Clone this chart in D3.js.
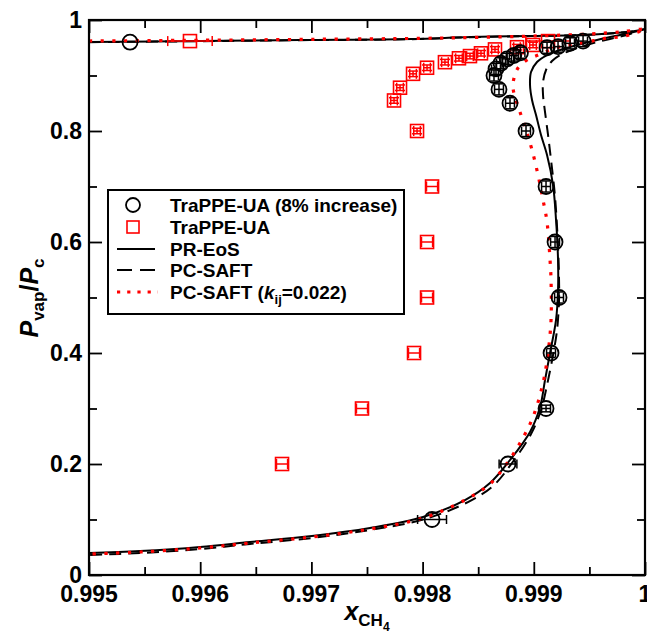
<!DOCTYPE html>
<html><head><meta charset="utf-8">
<script src="https://cdn.jsdelivr.net/npm/d3@7"></script>
<style>body{margin:0;background:#fff} svg text{font-family:"Liberation Sans",Arial,sans-serif;font-weight:bold;fill:#000}</style>
</head><body><svg id="c" width="647" height="633"></svg>
<script>
// ---------- tick values ----------
const xTicks = [0.995, 0.996, 0.997, 0.998, 0.999, 1];
const xTickLabels = ["0.995", "0.996", "0.997", "0.998", "0.999", "1"];
const xMinorTicks = [0.9955, 0.9965, 0.9975, 0.9985, 0.9995];
const yTicks = [0, 0.2, 0.4, 0.6, 0.8, 1];
const yTickLabels = ["0", "0.2", "0.4", "0.6", "0.8", "1"];
const yMinorTicks = [0.1, 0.3, 0.5, 0.7, 0.9];

// ---------- legend ----------
const seriesNames = ["TraPPE-UA (8% increase)", "TraPPE-UA", "PR-EoS", "PC-SAFT", "PC-SAFT (kij=0.022)"];

// ---------- simulation data: TraPPE-UA (8% increase) ----------
const trappe8X = [0.995369, 0.998085, 0.998768, 0.999110, 0.999155, 0.999227, 0.999191, 0.999110, 0.998930, 0.998786, 0.998687, 0.998642, 0.998660, 0.998705, 0.998760, 0.998820, 0.998880, 0.999119, 0.999218, 0.999326, 0.999443];
const trappe8Y = [0.960, 0.100, 0.200, 0.300, 0.400, 0.500, 0.600, 0.700, 0.800, 0.850, 0.875, 0.900, 0.912, 0.922, 0.930, 0.936, 0.941, 0.950, 0.952, 0.958, 0.962];
const trappe8XErr = [0, 0.00013, 0.00008, 0.00004, 0.00004, 0.00004, 0.00004, 0.00004, 0.00004, 0.00004, 0.00004, 0.00004, 0.00004, 0.00004, 0.00004, 0.00004, 0.00004, 0.00004, 0.00004, 0.00004, 0.00004];
const trappe8YErr = [0, 0, 0, 0.006, 0.008, 0.01, 0.01, 0.01, 0.01, 0.01, 0.01, 0.01, 0.01, 0.01, 0.01, 0.01, 0.01, 0.01, 0.01, 0.01, 0.01];

// ---------- simulation data: TraPPE-UA ----------
const trappeX = [0.995908, 0.996736, 0.997455, 0.997923, 0.998040, 0.998040, 0.998085, 0.997950, 0.997743, 0.997797, 0.997914, 0.998040, 0.998201, 0.998327, 0.998426, 0.998525, 0.998651, 0.998849, 0.998993, 0.999128];
const trappeY = [0.962, 0.200, 0.300, 0.400, 0.500, 0.600, 0.700, 0.800, 0.855, 0.878, 0.903, 0.914, 0.924, 0.931, 0.935, 0.940, 0.947, 0.951, 0.955, 0.962];
const trappeXErr = [0.0002, 0.00005, 0.00005, 0.00005, 0.00005, 0.00005, 0.00005, 0.00003, 0.00003, 0.00003, 0.00003, 0.00003, 0.00003, 0.00003, 0.00003, 0.00003, 0.00003, 0.00003, 0.00003, 0.0002];
const trappeYErr = [0, 0, 0, 0, 0, 0, 0, 0.005, 0.005, 0.005, 0.005, 0.005, 0.005, 0.005, 0.005, 0.005, 0.005, 0.005, 0.005, 0];

// ---------- PR-EoS (solid) ----------
const prX = [0.995, 0.996, 0.9969, 0.9979, 0.99843, 0.99897, 0.99942, 0.99973, 0.99991, 1.0,
  0.999865, 0.999775, 0.999568, 0.999326, 0.999209, 0.999119, 0.999029, 0.998975, 0.998966, 0.998984, 0.999020, 0.999065, 0.999119, 0.999173, 0.999200, 0.999218, 0.999218, 0.999200, 0.999146, 0.999101, 0.999056, 0.998966, 0.998786, 0.998606, 0.998381, 0.998004, 0.997527, 0.997005, 0.996448, 0.996, 0.995459, 0.995];
const prY = [0.9604, 0.9622, 0.9640, 0.9658, 0.9694, 0.9712, 0.9730, 0.9766, 0.9802, 0.9838,
  0.9766, 0.9730, 0.9640, 0.9514, 0.9441, 0.9369, 0.9243, 0.9063, 0.8829, 0.8559, 0.8288, 0.7928, 0.7568, 0.7027, 0.6396, 0.5676, 0.5135, 0.4595, 0.4000, 0.3514, 0.3027, 0.2577, 0.2072, 0.1658, 0.1351, 0.1045, 0.0847, 0.0703, 0.0595, 0.0505, 0.0432, 0.0396];

// ---------- PC-SAFT (dashed) ----------
const pcX = [0.995, 0.996, 0.9969, 0.9979, 0.99843, 0.99897, 0.99942, 0.99973, 0.99991, 1.0,
  0.999865, 0.999685, 0.999505, 0.999343, 0.999236, 0.999164, 0.999110, 0.999083, 0.999083, 0.999101, 0.999128, 0.999155, 0.999191, 0.999218, 0.999227, 0.999227, 0.999209, 0.999173, 0.999119, 0.999065, 0.998975, 0.998804, 0.998633, 0.998408, 0.998022, 0.997527, 0.997005, 0.996448, 0.996, 0.995459, 0.995];
const pcY = [0.9600, 0.9618, 0.9636, 0.9655, 0.9690, 0.9710, 0.9728, 0.9764, 0.9800, 0.9838,
  0.9748, 0.9658, 0.9568, 0.9459, 0.9369, 0.9261, 0.9099, 0.8883, 0.8649, 0.8342, 0.7928, 0.7477, 0.6811, 0.5910, 0.5315, 0.4955, 0.4414, 0.3964, 0.3423, 0.2973, 0.2541, 0.2018, 0.1604, 0.1315, 0.1009, 0.0811, 0.0667, 0.0559, 0.0468, 0.0396, 0.0360];

// ---------- PC-SAFT kij=0.022 (red dotted) ----------
const pckX = [0.995, 0.996, 0.997, 0.998, 0.9985, 0.999, 0.9995, 0.9998, 1.0,
  0.999883, 0.999775, 0.999658, 0.999568, 0.999478, 0.999371, 0.999263, 0.999146, 0.999038, 0.998939, 0.998858, 0.998822, 0.998813, 0.998840, 0.998885, 0.998930, 0.998984, 0.999038, 0.999083, 0.999119, 0.999146, 0.999155, 0.999155, 0.999128, 0.999083, 0.998993, 0.998876, 0.998741, 0.998606, 0.998381, 0.998004, 0.997527, 0.997005, 0.996448, 0.996, 0.995459, 0.995];
const pckY = [0.9622, 0.9635, 0.9652, 0.9670, 0.9688, 0.9712, 0.9748, 0.9790, 0.9838,
  0.9748, 0.9694, 0.9676, 0.9640, 0.9604, 0.9568, 0.9532, 0.9459, 0.9369, 0.9279, 0.9135, 0.8955, 0.8775, 0.8559, 0.8288, 0.8018, 0.7658, 0.7207, 0.6757, 0.6360, 0.5676, 0.5315, 0.4595, 0.4000, 0.3459, 0.2847, 0.2378, 0.1964, 0.1640, 0.1351, 0.1027, 0.0829, 0.0685, 0.0577, 0.0486, 0.0414, 0.0378];

// ---------- drawing ----------
const L = 89, R = 645, T = 20, B = 575;
const x = d3.scaleLinear().domain([0.995, 1]).range([L, R]);
const y = d3.scaleLinear().domain([0, 1]).range([B, T]);
const svg = d3.select("#c");

// ticks (inward, all four sides)
function ticks(axisGen, tr, vals, size) {
  const g = svg.append("g").attr("transform", tr)
    .call(axisGen.tickValues(vals).tickSize(size).tickFormat(""));
  g.select(".domain").remove();
  g.selectAll(".tick line").attr("stroke", "#000").attr("stroke-width", 1.8);
}
ticks(d3.axisBottom(x), `translate(0,${B})`, xTicks, -13);
ticks(d3.axisBottom(x), `translate(0,${B})`, xMinorTicks, -8);
ticks(d3.axisTop(x), `translate(0,${T})`, xTicks, -13);
ticks(d3.axisTop(x), `translate(0,${T})`, xMinorTicks, -8);
ticks(d3.axisLeft(y), `translate(${L},0)`, yTicks, -13);
ticks(d3.axisLeft(y), `translate(${L},0)`, yMinorTicks, -8);
ticks(d3.axisRight(y), `translate(${R},0)`, yTicks, -13);
ticks(d3.axisRight(y), `translate(${R},0)`, yMinorTicks, -8);

// tick labels
svg.append("g").selectAll("text").data(xTicks).join("text")
  .attr("x", d => x(d)).attr("y", 602).attr("text-anchor", "middle")
  .attr("font-size", 23).text((d, i) => xTickLabels[i]);
svg.append("g").selectAll("text").data(yTicks).join("text")
  .attr("x", 82).attr("y", d => y(d) + 8).attr("text-anchor", "end")
  .attr("font-size", 23).text((d, i) => yTickLabels[i]);

// curves
const line = d3.line().x(d => x(d[0])).y(d => y(d[1])).curve(d3.curveCatmullRom.alpha(0.5));
const plotG = svg.append("g");
plotG.append("path").datum(prX.map((v, i) => [v, prY[i]])).attr("d", line)
  .attr("fill", "none").attr("stroke", "#000").attr("stroke-width", 2);
plotG.append("path").datum(pcX.map((v, i) => [v, pcY[i]])).attr("d", line)
  .attr("fill", "none").attr("stroke", "#000").attr("stroke-width", 2).attr("stroke-dasharray", "12,7");
plotG.append("path").datum(pckX.map((v, i) => [v, pckY[i]])).attr("d", line)
  .attr("fill", "none").attr("stroke", "#ff0000").attr("stroke-width", 3.2).attr("stroke-dasharray", "3.2,8.5");

// error bars + markers
function errBars(g, xs, ys, xe, ye, color, cap) {
  xs.forEach((xv, i) => {
    const cx = x(xv), cy = y(ys[i]);
    if (xe[i] > 0) {
      const x0 = x(xv - xe[i]), x1 = x(xv + xe[i]);
      g.append("line").attr("x1", x0).attr("x2", x1).attr("y1", cy).attr("y2", cy);
      g.append("line").attr("x1", x0).attr("x2", x0).attr("y1", cy - cap).attr("y2", cy + cap);
      g.append("line").attr("x1", x1).attr("x2", x1).attr("y1", cy - cap).attr("y2", cy + cap);
    }
    if (ye[i] > 0) {
      const y0 = y(ys[i] - ye[i]), y1 = y(ys[i] + ye[i]);
      g.append("line").attr("x1", cx).attr("x2", cx).attr("y1", y0).attr("y2", y1);
      g.append("line").attr("x1", cx - cap).attr("x2", cx + cap).attr("y1", y0).attr("y2", y0);
      g.append("line").attr("x1", cx - cap).attr("x2", cx + cap).attr("y1", y1).attr("y2", y1);
    }
  });
  g.selectAll("line").attr("stroke", color).attr("stroke-width", 1.5);
}
const redG = svg.append("g");
errBars(redG.append("g"), trappeX, trappeY, trappeXErr, trappeYErr, "#ff0000", 5);
redG.append("g").selectAll("rect").data(trappeX).join("rect")
  .attr("x", (d) => x(d) - 6.5).attr("y", (d, i) => y(trappeY[i]) - 6.5)
  .attr("width", 13).attr("height", 13)
  .attr("fill", "none").attr("stroke", "#ff0000").attr("stroke-width", 1.6);

const blkG = svg.append("g");
errBars(blkG.append("g"), trappe8X, trappe8Y, trappe8XErr, trappe8YErr, "#000", 4.5);
blkG.append("g").selectAll("circle").data(trappe8X).join("circle")
  .attr("cx", d => x(d)).attr("cy", (d, i) => y(trappe8Y[i])).attr("r", 7.5)
  .attr("fill", "none").attr("stroke", "#000").attr("stroke-width", 1.8);

// frame
svg.append("rect").attr("x", L).attr("y", T).attr("width", R - L).attr("height", B - T)
  .attr("fill", "none").attr("stroke", "#000").attr("stroke-width", 2.2);

// legend
const lg = svg.append("g");
lg.append("rect").attr("x", 108).attr("y", 190).attr("width", 296).attr("height", 124)
  .attr("fill", "#fff").attr("stroke", "#000").attr("stroke-width", 2);
const rowY = [205, 227, 249, 270, 292];
lg.append("circle").attr("cx", 133).attr("cy", rowY[0]).attr("r", 7).attr("fill", "none").attr("stroke", "#000").attr("stroke-width", 1.8);
lg.append("rect").attr("x", 127).attr("y", rowY[1] - 6).attr("width", 12).attr("height", 12).attr("fill", "none").attr("stroke", "#ff0000").attr("stroke-width", 1.6);
lg.append("line").attr("x1", 117).attr("x2", 155).attr("y1", rowY[2]).attr("y2", rowY[2]).attr("stroke", "#000").attr("stroke-width", 2);
lg.append("line").attr("x1", 117).attr("x2", 155).attr("y1", rowY[3]).attr("y2", rowY[3]).attr("stroke", "#000").attr("stroke-width", 2).attr("stroke-dasharray", "15,8");
lg.append("line").attr("x1", 117).attr("x2", 158).attr("y1", rowY[4]).attr("y2", rowY[4]).attr("stroke", "#ff0000").attr("stroke-width", 3.2).attr("stroke-dasharray", "3.2,7");
seriesNames.forEach((s, i) => {
  const t = lg.append("text").attr("x", 170).attr("y", rowY[i] + 7).attr("font-size", 19);
  if (i === 4) {
    t.append("tspan").text("PC-SAFT (");
    t.append("tspan").attr("font-style", "italic").text("k");
    t.append("tspan").attr("font-size", 13).attr("dy", 5).text("ij");
    t.append("tspan").attr("dy", -5).text("=0.022)");
  } else t.text(s);
});

// axis titles
const yl = svg.append("text").attr("transform", "translate(38,298) rotate(-90)")
  .attr("text-anchor", "middle").attr("font-size", 25);
yl.append("tspan").attr("font-style", "italic").text("P");
yl.append("tspan").attr("font-size", 17).attr("dy", 6).text("vap");
yl.append("tspan").attr("dy", -6).text("/");
yl.append("tspan").attr("font-style", "italic").text("P");
yl.append("tspan").attr("font-size", 17).attr("dy", 6).text("c");

const xl = svg.append("text").attr("x", 367).attr("y", 620).attr("text-anchor", "middle").attr("font-size", 25);
xl.append("tspan").attr("font-style", "italic").text("x");
xl.append("tspan").attr("font-size", 17).attr("dy", 6).text("CH");
xl.append("tspan").attr("font-size", 12).attr("dy", 5).text("4");
</script></body></html>
